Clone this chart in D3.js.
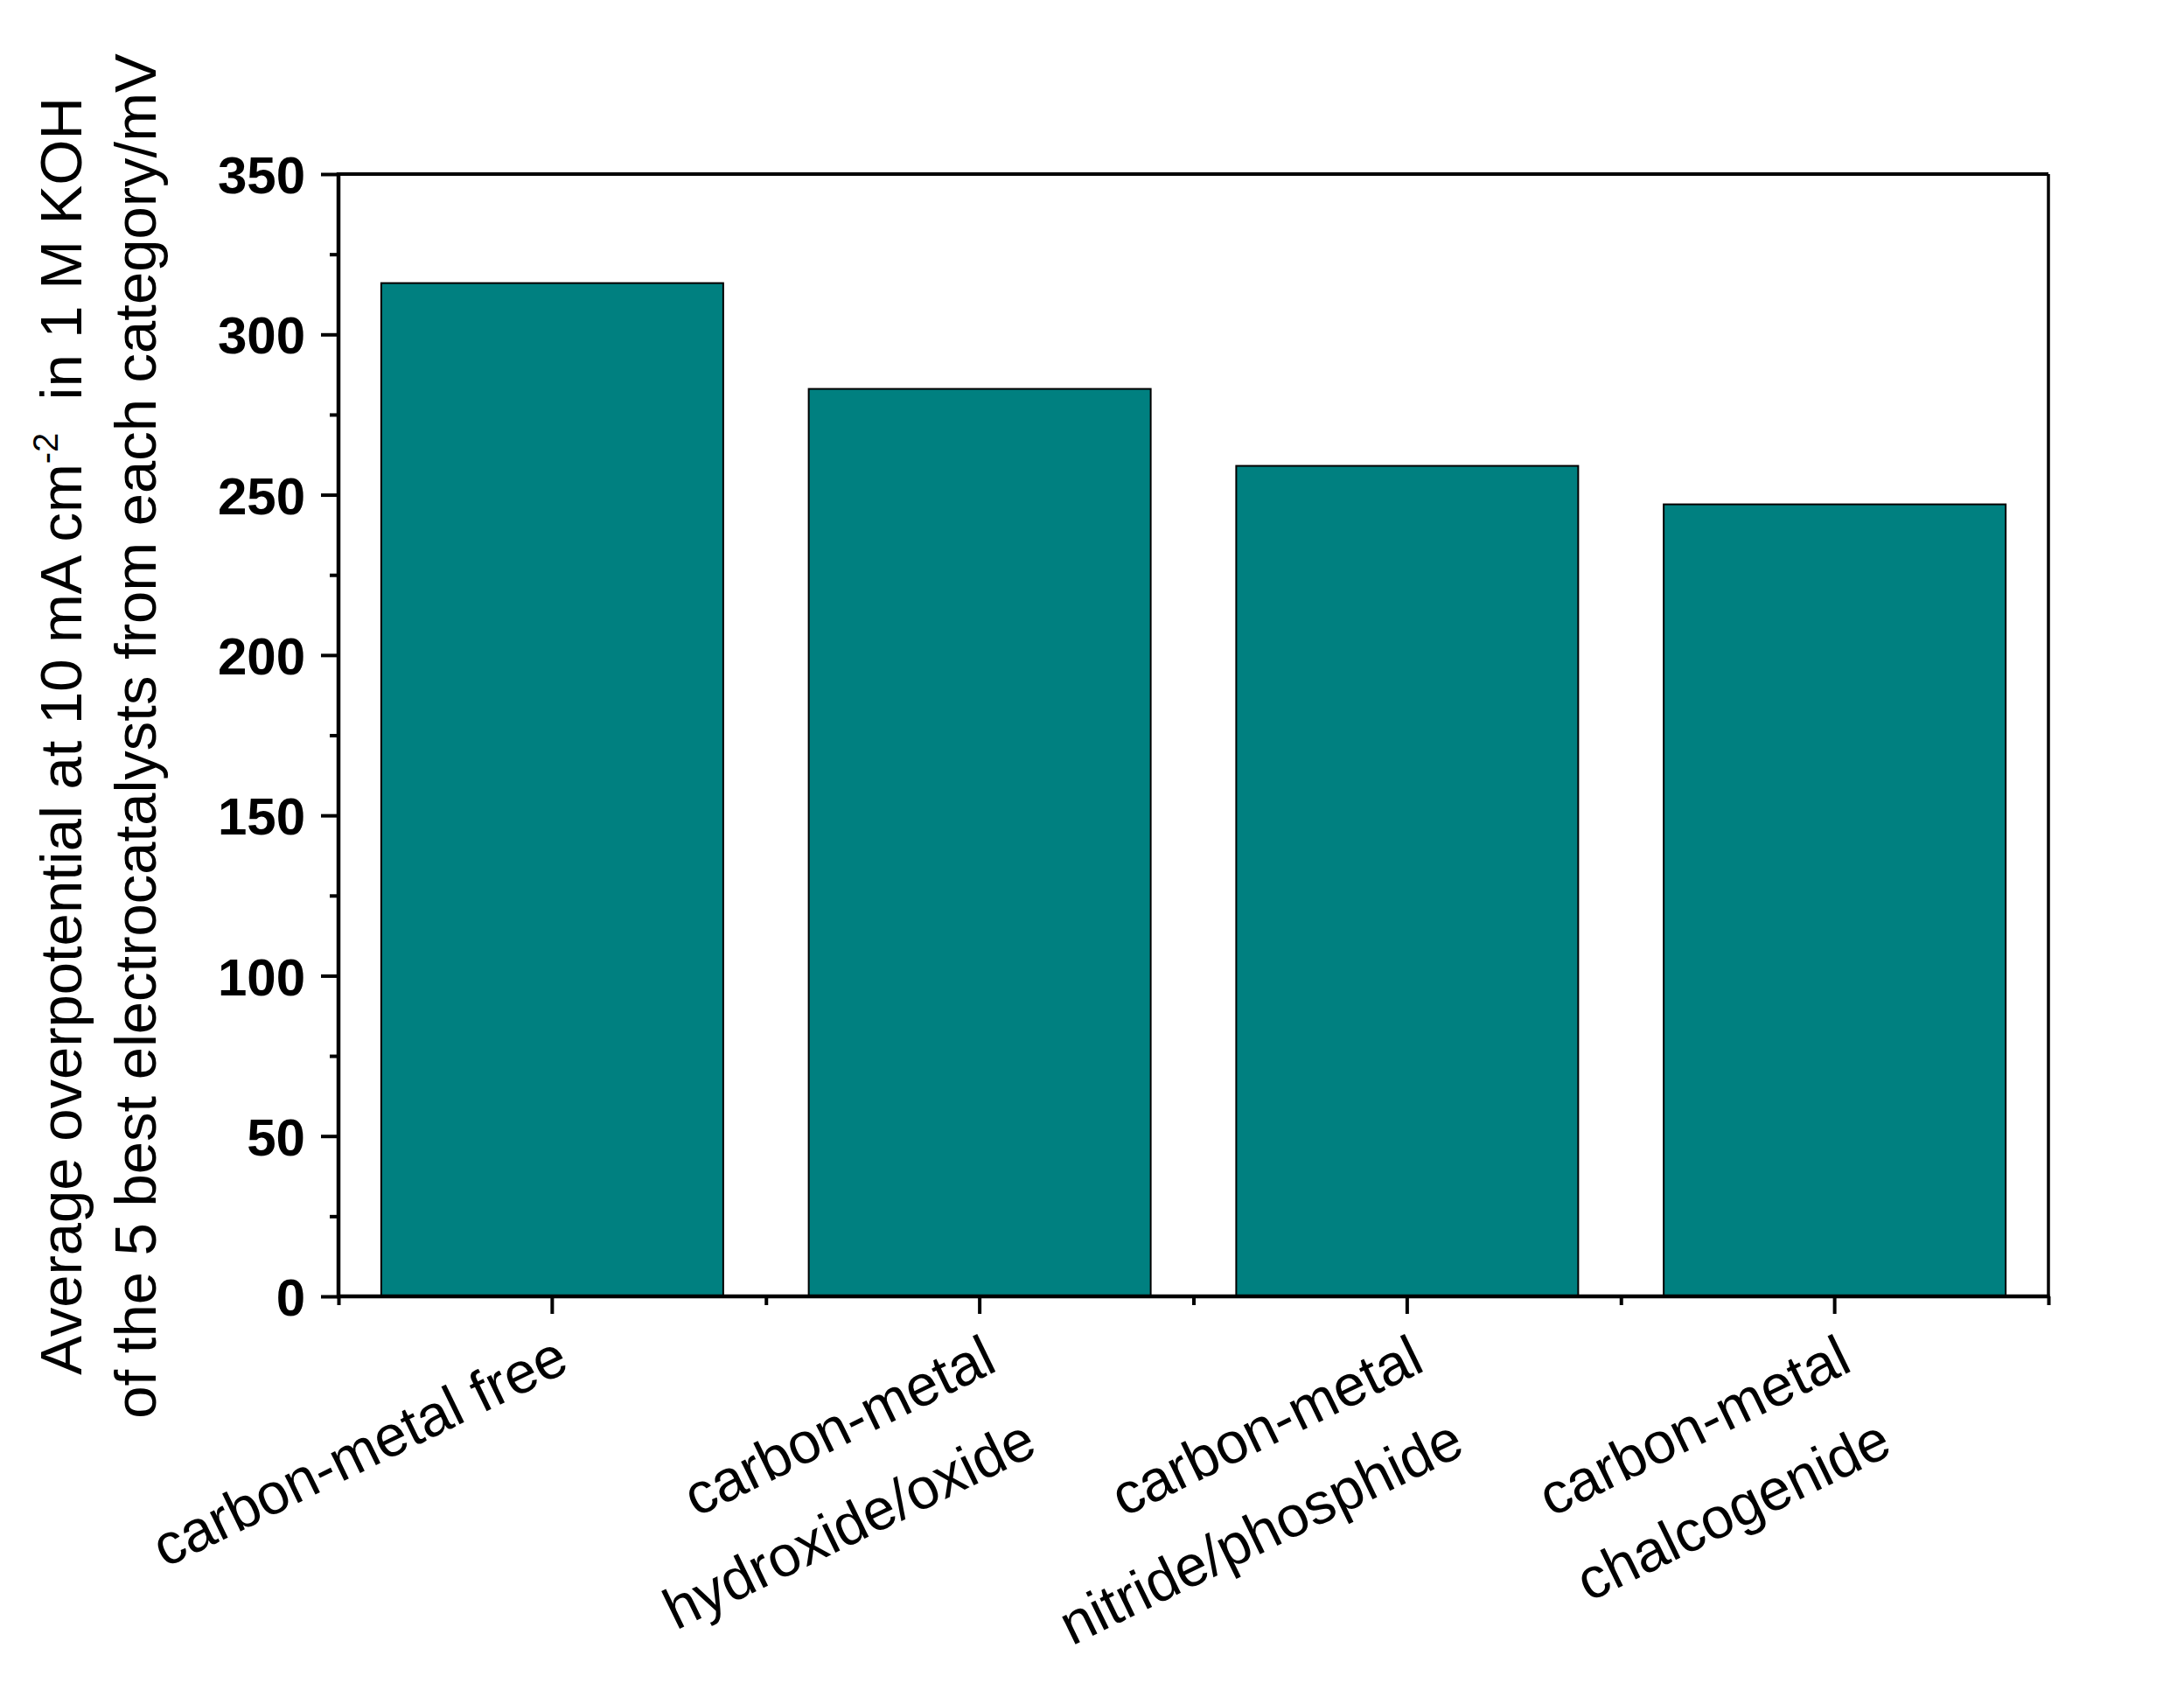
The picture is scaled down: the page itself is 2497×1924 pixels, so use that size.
<!DOCTYPE html>
<html>
<head>
<meta charset="utf-8">
<script src="https://cdn.jsdelivr.net/npm/d3@7"></script>
<style>
  html, body { margin: 0; padding: 0; background: #ffffff; }
  svg { display: block; }
  text { font-family: "Liberation Sans", Arial, sans-serif; fill: #000; }
</style>
</head>
<body>
<script>
// ---- data ----
const categories = ["carbon-metal free", "carbon-metal hydroxide/oxide", "carbon-metal nitride/phosphide", "carbon-metal chalcogenide"];
const categoryLines = [["carbon-metal free"], ["carbon-metal", "hydroxide/oxide"], ["carbon-metal", "nitride/phosphide"], ["carbon-metal", "chalcogenide"]];
const values = [316, 283, 259, 247];
const yMajorTicks = [0, 50, 100, 150, 200, 250, 300, 350];
const yMinorTicks = [25, 75, 125, 175, 225, 275, 325];
const titleLine1 = ["Average overpotential at 10 mA cm", "-2", "  in 1 M KOH"];
const titleLine2 = "of the 5 best electrocatalysts from each category/mV";

// ---- layout ----
const W = 2497, H = 1924;
const L = 387, R = 2342, T = 199, B = 1482;
const barColor = "#008080";

const svg = d3.select("body").append("svg").attr("width", W).attr("height", H);
svg.append("rect").attr("width", W).attr("height", H).attr("fill", "#fff");

const y = d3.scaleLinear().domain([0, 350]).range([B, T]);
const x = d3.scaleBand().domain(categories).range([L, R]).paddingInner(0.2).paddingOuter(0.1);
const xEdge = d3.scaleLinear().domain([0, categories.length]).range([L, R]);

// bars
svg.append("g").selectAll("rect").data(values).join("rect")
  .attr("x", (d, i) => x(categories[i]))
  .attr("y", d => y(d))
  .attr("width", x.bandwidth())
  .attr("height", d => y(0) - y(d))
  .attr("fill", barColor)
  .attr("stroke", "#000")
  .attr("stroke-width", 2);

// frame top/right
svg.append("line").attr("x1", L).attr("x2", R).attr("y1", T).attr("y2", T).attr("stroke", "#000").attr("stroke-width", 4);
svg.append("line").attr("x1", R).attr("x2", R).attr("y1", T).attr("y2", B).attr("stroke", "#000").attr("stroke-width", 3.5);

// y axis major
const yAxis = svg.append("g").attr("transform", `translate(${L},0)`)
  .call(d3.axisLeft(y).tickValues(yMajorTicks).tickSize(20).tickPadding(18).tickSizeOuter(0));
yAxis.select(".domain").attr("stroke-width", 4.5).attr("d", `M0,${T - 2}V${B}`);
yAxis.selectAll(".tick line").attr("stroke-width", 4);
yAxis.selectAll(".tick text").attr("font-size", 60).attr("font-weight", "bold")
  .attr("font-family", "Liberation Sans, Arial, sans-serif").attr("dy", "0.36em");

// y axis minor
const yMinor = svg.append("g").attr("transform", `translate(${L},0)`)
  .call(d3.axisLeft(y).tickValues(yMinorTicks).tickSize(10).tickFormat(""));
yMinor.select(".domain").remove();
yMinor.selectAll(".tick line").attr("stroke-width", 4);

// x axis major
const xAxis = svg.append("g").attr("transform", `translate(0,${B})`)
  .call(d3.axisBottom(x).tickSize(20).tickFormat("").tickSizeOuter(0));
xAxis.select(".domain").attr("stroke-width", 4.5).attr("d", `M${L - 2},0H${R + 1.5}`);
xAxis.selectAll(".tick line").attr("stroke-width", 4);

// x axis minor (band edges)
const xMinor = svg.append("g").attr("transform", `translate(0,${B})`)
  .call(d3.axisBottom(xEdge).tickValues(d3.range(categories.length + 1)).tickSize(10).tickFormat(""));
xMinor.select(".domain").remove();
xMinor.selectAll(".tick line").attr("stroke-width", 4);

// x tick labels (rotated, right-aligned)
const angle = -26;
const lab = svg.append("g").selectAll("g").data(categoryLines).join("g")
  .attr("transform", (d, i) => `translate(${x(categories[i]) + x.bandwidth() / 2 + 22},${B + 84}) rotate(${angle})`);
lab.selectAll("text").data(d => d).join("text")
  .attr("x", 0).attr("y", (d, j) => j * 106)
  .attr("text-anchor", "end")
  .attr("font-size", 66)
  .text(d => d);

// y title
const cy = (T + B) / 2 + 1;
const t1 = svg.append("text").attr("transform", `translate(93,${cy}) rotate(-90)`)
  .attr("text-anchor", "middle").attr("font-size", 67).style("white-space", "pre");
t1.append("tspan").text(titleLine1[0]);
t1.append("tspan").attr("font-size", 40).attr("dy", -27).text(titleLine1[1]);
t1.append("tspan").attr("dy", 27).text(titleLine1[2]);
svg.append("text").attr("transform", `translate(178,${cy}) rotate(-90)`)
  .attr("text-anchor", "middle").attr("font-size", 67).text(titleLine2);
</script>
</body>
</html>
